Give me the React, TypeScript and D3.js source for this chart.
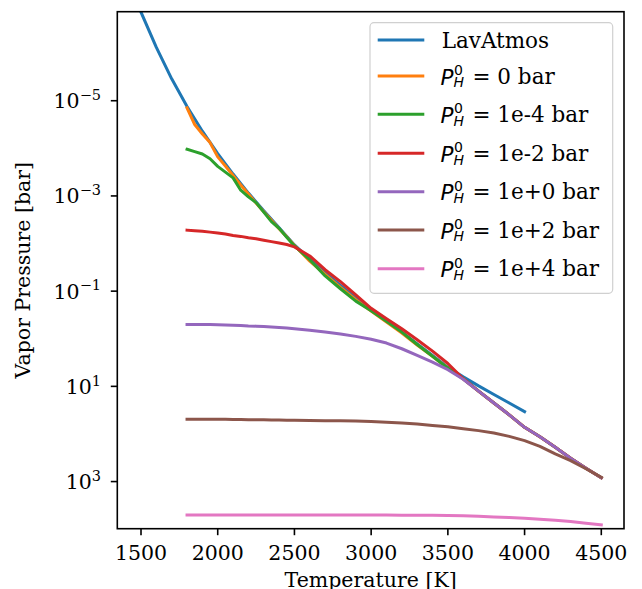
import React from "react";
import * as d3 from "d3";

// Temperatures [K]
const tempLav = [1500, 1600, 1700, 1800, 1900, 2000, 2100, 2200, 2300, 2400, 2500, 2600, 2700, 2800, 2900, 3000, 3100, 3200, 3300, 3400, 3500, 3600, 3700, 3800, 3900, 4000];
// log10 of vapor pressure [bar]
const lavAtmos = [-6.86, -6.12, -5.46, -4.88, -4.36, -3.89, -3.46, -3.06, -2.69, -2.33, -1.97, -1.67, -1.39, -1.12, -0.86, -0.62, -0.38, -0.14, 0.11, 0.35, 0.6, 0.8, 0.99, 1.17, 1.35, 1.53];

const tempH = [1800, 1850, 1900, 1950, 2000, 2050, 2100, 2150, 2200, 2250, 2300, 2350, 2400, 2450, 2500, 2600, 2700, 2800, 2900, 3000, 3100, 3200, 3300, 3400, 3500, 3600, 3700, 3800, 3900, 4000, 4100, 4200, 4300, 4400, 4500];
const pH_0 = [-4.85, -4.5, -4.3, -4.12, -3.82, -3.63, -3.43, -3.23, -3.04, -2.85, -2.67, -2.49, -2.31, -2.14, -1.96, -1.63, -1.35, -1.08, -0.82, -0.58, -0.35, -0.12, 0.13, 0.37, 0.62, 0.84, 1.1, 1.35, 1.6, 1.86, 2.06, 2.28, 2.51, 2.72, 2.92];
const pH_1em4 = [-3.98, -3.93, -3.88, -3.78, -3.62, -3.5, -3.38, -3.12, -2.98, -2.86, -2.66, -2.46, -2.32, -2.13, -1.95, -1.66, -1.32, -1.05, -0.79, -0.59, -0.37, -0.14, 0.12, 0.37, 0.62, 0.84, 1.1, 1.35, 1.6, 1.86, 2.06, 2.28, 2.51, 2.72, 2.92];
const pH_1em2 = [-2.28, -2.27, -2.26, -2.24, -2.22, -2.2, -2.17, -2.15, -2.12, -2.1, -2.07, -2.04, -2.01, -1.98, -1.93, -1.74, -1.45, -1.2, -0.92, -0.64, -0.42, -0.21, 0.02, 0.26, 0.52, 0.84, 1.1, 1.35, 1.6, 1.86, 2.06, 2.28, 2.51, 2.72, 2.92];
const pH_1e0 = [-0.3, -0.3, -0.3, -0.3, -0.295, -0.29, -0.285, -0.28, -0.27, -0.265, -0.255, -0.245, -0.235, -0.225, -0.21, -0.18, -0.14, -0.1, -0.05, 0.01, 0.09, 0.21, 0.35, 0.49, 0.65, 0.85, 1.1, 1.35, 1.6, 1.86, 2.06, 2.28, 2.51, 2.72, 2.92];
const pH_1e2 = [1.69, 1.69, 1.69, 1.69, 1.69, 1.69, 1.695, 1.695, 1.7, 1.7, 1.7, 1.705, 1.705, 1.71, 1.71, 1.715, 1.72, 1.725, 1.73, 1.74, 1.755, 1.77, 1.79, 1.82, 1.85, 1.89, 1.93, 1.98, 2.05, 2.14, 2.26, 2.42, 2.56, 2.73, 2.91];
const pH_1e4 = [3.7, 3.7, 3.7, 3.7, 3.7, 3.7, 3.7, 3.7, 3.7, 3.7, 3.7, 3.7, 3.7, 3.7, 3.7, 3.7, 3.7, 3.7, 3.7, 3.7, 3.702, 3.705, 3.707, 3.71, 3.715, 3.72, 3.73, 3.745, 3.755, 3.77, 3.79, 3.815, 3.84, 3.875, 3.91];

const seriesNames = ["LavAtmos", "0 bar", "1e-4 bar", "1e-2 bar", "1e+0 bar", "1e+2 bar", "1e+4 bar"];
const seriesColors = ["#1f77b4", "#ff7f0e", "#2ca02c", "#d62728", "#9467bd", "#8c564b", "#e377c2"];

const xTicks = [1500, 2000, 2500, 3000, 3500, 4000, 4500];
const yTickExps = [-5, -3, -1, 1, 3];

const W = 642;
const H = 589;
const L = 117.3, R = 624, T = 11.7, B = 528.7;
const FONT = "DejaVu Serif";
const FS = 20.5;
const LFS = 21.5;

export default function App() {
  const x = d3.scaleLinear().domain([1345.5, 4648]).range([L, R]);
  const y = d3.scaleLog().domain([Math.pow(10, -6.87), Math.pow(10, 3.99)]).range([T, B]);

  const series = [
    { t: tempLav, v: lavAtmos },
    { t: tempH, v: pH_0 },
    { t: tempH, v: pH_1em4 },
    { t: tempH, v: pH_1em2 },
    { t: tempH, v: pH_1e0 },
    { t: tempH, v: pH_1e2 },
    { t: tempH, v: pH_1e4 },
  ];

  const line = d3
    .line<[number, number]>()
    .x((d) => x(d[0]))
    .y((d) => y(Math.pow(10, d[1])));

  const rowY = [40, 76, 114.3, 153.3, 191.7, 230, 268.7];
  const minus = "\u2212";

  return (
    <svg
      width={W}
      height={H}
      style={{ position: "absolute", left: 0, top: 0, background: "#fff" }}
      fontFamily={FONT}
    >
      <defs>
        <clipPath id="plotclip">
          <rect x={L} y={T} width={R - L} height={B - T} />
        </clipPath>
      </defs>
      <rect x={0} y={0} width={W} height={H} fill="#fff" />

      <g clipPath="url(#plotclip)">
        {series.map((s, i) => (
          <path
            key={i}
            d={line(s.t.map((tt, j) => [tt, s.v[j]] as [number, number])) || ""}
            fill="none"
            stroke={seriesColors[i]}
            strokeWidth={3}
            strokeLinejoin="round"
            strokeLinecap="square"
          />
        ))}
      </g>

      {/* frame */}
      <rect x={L} y={T} width={R - L} height={B - T} fill="none" stroke="#000" strokeWidth={1.6} />

      {/* x ticks */}
      {xTicks.map((t) => (
        <g key={t}>
          <line x1={x(t)} x2={x(t)} y1={B} y2={B + 6.5} stroke="#000" strokeWidth={1.6} />
          <text x={x(t)} y={559.5} textAnchor="middle" fontSize={FS} fill="#000">
            {t}
          </text>
        </g>
      ))}

      {/* y ticks */}
      {yTickExps.map((e) => {
        const yy = y(Math.pow(10, e));
        return (
          <g key={e}>
            <line x1={L - 6.5} x2={L} y1={yy} y2={yy} stroke="#000" strokeWidth={1.6} />
            <text x={101} y={yy + 7.5} textAnchor="end" fontSize={FS} fill="#000">
              <tspan>10</tspan>
              <tspan dy={-8.3} fontSize={14.5}>
                {e < 0 ? minus + Math.abs(e) : String(e)}
              </tspan>
            </text>
          </g>
        );
      })}

      {/* axis labels */}
      <text x={(L + R) / 2} y={587} textAnchor="middle" fontSize={FS} fill="#000">
        Temperature [K]
      </text>
      <text
        transform={`translate(30,${(T + B) / 2}) rotate(-90)`}
        textAnchor="middle"
        fontSize={FS}
        fill="#000"
      >
        Vapor Pressure [bar]
      </text>

      {/* legend */}
      <rect x={370} y={22.7} width={242.7} height={270.6} rx={4} fill="#fff" fillOpacity={0.8} stroke="#d0d0d0" strokeWidth={1.2} />
      {seriesNames.map((name, i) => {
        const ry = rowY[i];
        return (
          <g key={name}>
            <line x1={377.7} x2={424.3} y1={ry} y2={ry} stroke={seriesColors[i]} strokeWidth={3} />
            {i === 0 ? (
              <text x={441.7} y={ry + 8} fontSize={LFS} fill="#000">
                {name}
              </text>
            ) : (
              <text x={440.5} y={ry + 8.5} fontSize={LFS} fill="#000">
                <tspan fontFamily="DejaVu Sans" fontStyle="italic">P</tspan>
                <tspan x={454} y={ry - 1} fontSize={14} fontFamily="DejaVu Sans">0</tspan>
                <tspan x={453.5} y={ry + 11.3} fontSize={14} fontFamily="DejaVu Sans" fontStyle="italic">H</tspan>
                <tspan x={472.5} y={ry + 7.5}>{"= " + name}</tspan>
              </text>
            )}
          </g>
        );
      })}
    </svg>
  );
}
